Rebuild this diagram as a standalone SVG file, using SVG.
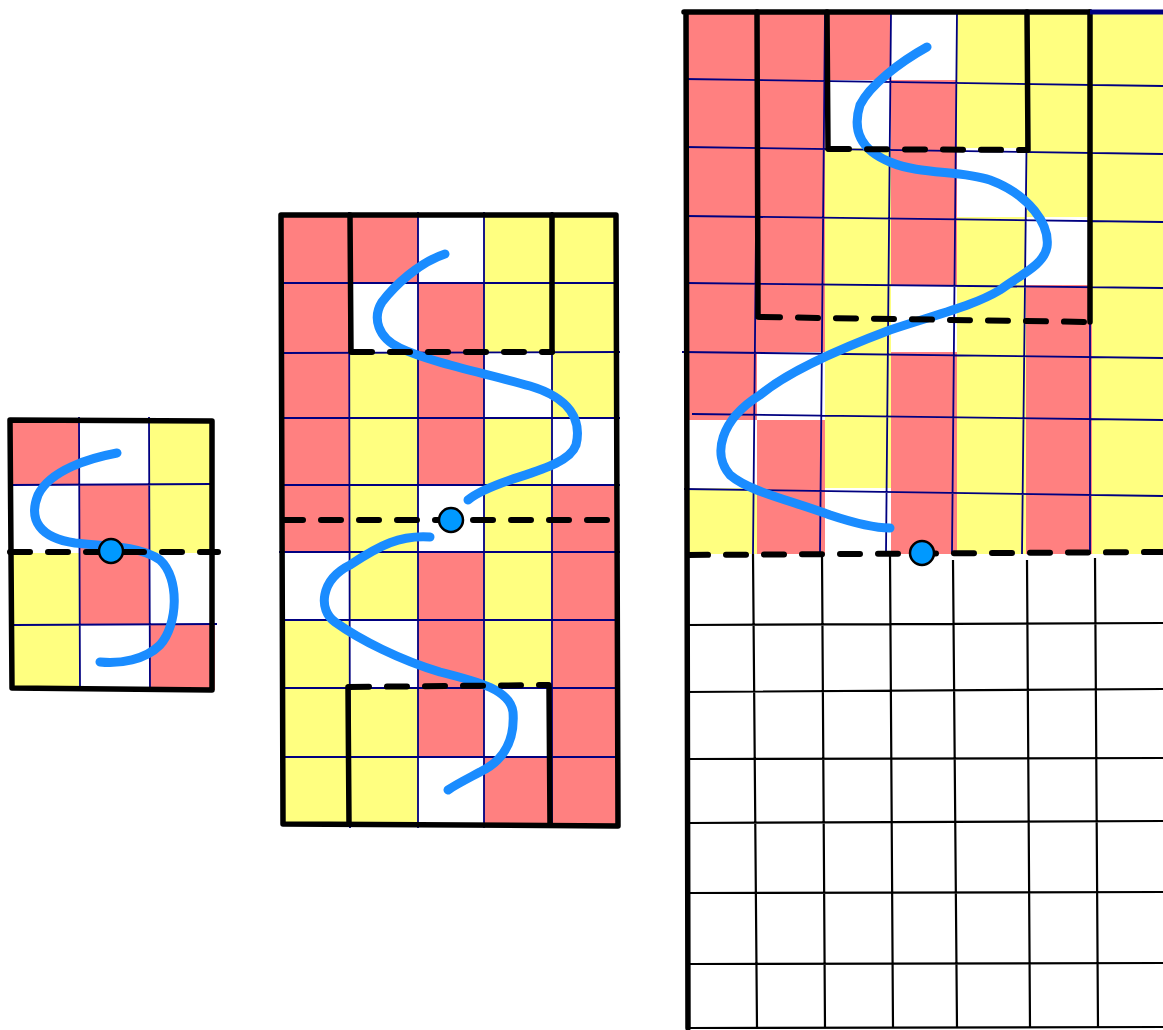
<svg xmlns="http://www.w3.org/2000/svg" width="1163" height="1030" viewBox="0 0 1163 1030">
<style>
.r{fill:#ff8080}
.y{fill:#ffff80}
.nv{stroke:#000080;stroke-width:1.8;fill:none}
.bk{stroke:#000;stroke-width:2.2;fill:none}
.thick{stroke:#000;stroke-width:5.5;fill:none;stroke-linecap:round;stroke-linejoin:round}
.dash{stroke:#000;stroke-width:6;fill:none;stroke-dasharray:20 18;stroke-linecap:round}
.curve{stroke:#1a8cff;stroke-width:9;fill:none;stroke-linecap:round;stroke-linejoin:round}
.dot{fill:#0099ff;stroke:#000;stroke-width:2.5}
</style>
<rect width="1163" height="1030" fill="#fff"/>

<g id="grid-small">
<rect class="r" x="10" y="420" width="69" height="65"/>
<rect class="y" x="149" y="420" width="63" height="65"/>
<rect class="r" x="79" y="485" width="70" height="68"/>
<rect class="y" x="149" y="485" width="63" height="68"/>
<rect class="y" x="10" y="553" width="69" height="72"/>
<rect class="r" x="79" y="553" width="70" height="72"/>
<rect class="y" x="10" y="625" width="69" height="65"/>
<rect class="r" x="149" y="625" width="66" height="65"/>
<path class="nv" d="M79,417 L80,690 M149,417 L150,690 M10,485 L212,484 M14,625 L217,624"/>
<path class="curve" d="M117,453 C90,458 50,470 38,495 C28,520 40,538 75,543 C100,546 140,545 160,560 C180,578 178,625 160,645 C145,660 120,664 100,662"/>
<path class="dash" d="M10,552 L218,552"/>
<path class="thick" d="M10,420 L212,421 L212,690 L12,688 Z"/>
<circle class="dot" cx="111" cy="551" r="12"/>
</g>

<g id="grid-medium">
<rect class="r" x="283" y="215" width="67" height="68"/>
<rect class="r" x="350" y="215" width="68" height="68"/>
<rect class="y" x="484" y="215" width="67" height="68"/>
<rect class="y" x="551" y="215" width="66" height="68"/>
<rect class="r" x="283" y="283" width="67" height="69"/>
<rect class="r" x="418" y="283" width="66" height="69"/>
<rect class="y" x="484" y="283" width="67" height="69"/>
<rect class="y" x="551" y="283" width="66" height="69"/>
<rect class="r" x="283" y="352" width="67" height="66"/>
<rect class="y" x="350" y="352" width="68" height="66"/>
<rect class="r" x="418" y="352" width="66" height="66"/>
<rect class="y" x="551" y="352" width="66" height="66"/>
<rect class="r" x="283" y="418" width="67" height="67"/>
<rect class="y" x="350" y="418" width="68" height="67"/>
<rect class="r" x="418" y="418" width="66" height="67"/>
<rect class="y" x="484" y="418" width="67" height="67"/>
<rect class="r" x="283" y="485" width="67" height="67"/>
<rect class="y" x="350" y="485" width="68" height="67"/>
<rect class="y" x="484" y="485" width="67" height="67"/>
<rect class="r" x="551" y="485" width="66" height="67"/>
<rect class="y" x="350" y="552" width="68" height="68"/>
<rect class="r" x="418" y="552" width="66" height="68"/>
<rect class="y" x="484" y="552" width="67" height="68"/>
<rect class="r" x="551" y="552" width="66" height="68"/>
<rect class="y" x="283" y="620" width="67" height="68"/>
<rect class="r" x="418" y="620" width="66" height="68"/>
<rect class="y" x="484" y="620" width="67" height="68"/>
<rect class="r" x="551" y="620" width="66" height="68"/>
<rect class="y" x="283" y="688" width="67" height="69"/>
<rect class="y" x="350" y="688" width="68" height="69"/>
<rect class="r" x="418" y="688" width="66" height="69"/>
<rect class="r" x="551" y="688" width="66" height="69"/>
<rect class="y" x="283" y="757" width="67" height="67"/>
<rect class="y" x="350" y="757" width="68" height="67"/>
<rect class="r" x="484" y="757" width="67" height="67"/>
<rect class="r" x="551" y="757" width="66" height="67"/>
<path class="nv" d="M349,212 L350,828 M418,212 L418,828 M484,212 L484,828 M552,212 L552,828 M281,283 L617,283 M281,353 L620,352 M281,418 L620,418 M283,485 L620,485 M279,552 L620,552 M283,620 L620,620 M283,688 L620,688 M281,757 L617,757"/>
<path class="curve" d="M445,254 C420,262 395,285 382,302 C372,318 378,338 400,348 C430,362 480,372 530,386 C570,398 582,420 576,445 C570,462 540,470 510,480 C490,487 475,494 468,500"/>
<path class="curve" d="M430,537 C400,535 380,545 350,565 C320,580 318,610 335,622 C360,640 400,660 440,672 C480,682 510,690 513,712 C515,740 505,760 480,772 C465,780 455,785 448,790"/>
<path class="dash" d="M283,520 L617,520"/>
<path class="dash" d="M352,352 L552,352"/>
<path class="dash" d="M349,687 L548,685"/>
<path class="thick" d="M350,215 L351,352 M552,215 L552,352 M348,687 L349,824 M549,685 L550,824"/>
<path class="thick" d="M281,215 L616,215 L618,826 L283,824 Z"/>
<circle class="dot" cx="451" cy="520" r="12"/>
</g>

<g id="grid-large">
<rect class="r" x="685" y="12" width="72" height="68"/>
<rect class="r" x="757" y="12" width="68" height="68"/>
<rect class="r" x="825" y="12" width="66" height="68"/>
<rect class="y" x="957" y="12" width="69" height="68"/>
<rect class="y" x="1026" y="12" width="66" height="68"/>
<rect class="y" x="1092" y="12" width="71" height="68"/>
<rect class="r" x="685" y="80" width="72" height="68"/>
<rect class="r" x="757" y="80" width="68" height="68"/>
<rect class="r" x="891" y="80" width="66" height="68"/>
<rect class="y" x="957" y="80" width="69" height="68"/>
<rect class="y" x="1026" y="80" width="66" height="68"/>
<rect class="y" x="1092" y="80" width="71" height="68"/>
<rect class="r" x="685" y="148" width="72" height="69"/>
<rect class="r" x="757" y="148" width="68" height="69"/>
<rect class="y" x="825" y="148" width="66" height="69"/>
<rect class="r" x="891" y="148" width="66" height="69"/>
<rect class="y" x="1026" y="148" width="66" height="69"/>
<rect class="y" x="1092" y="148" width="71" height="69"/>
<rect class="r" x="685" y="217" width="72" height="68"/>
<rect class="r" x="757" y="217" width="68" height="68"/>
<rect class="y" x="825" y="217" width="66" height="68"/>
<rect class="r" x="891" y="217" width="66" height="68"/>
<rect class="y" x="957" y="217" width="69" height="68"/>
<rect class="y" x="1092" y="217" width="71" height="68"/>
<rect class="r" x="685" y="285" width="72" height="67"/>
<rect class="r" x="757" y="285" width="68" height="67"/>
<rect class="y" x="825" y="285" width="66" height="67"/>
<rect class="y" x="957" y="285" width="69" height="67"/>
<rect class="r" x="1026" y="285" width="66" height="67"/>
<rect class="y" x="1092" y="285" width="71" height="67"/>
<rect class="r" x="685" y="352" width="72" height="68"/>
<rect class="y" x="825" y="352" width="66" height="68"/>
<rect class="r" x="891" y="352" width="66" height="68"/>
<rect class="y" x="957" y="352" width="69" height="68"/>
<rect class="r" x="1026" y="352" width="66" height="68"/>
<rect class="y" x="1092" y="352" width="71" height="68"/>
<rect class="r" x="757" y="420" width="68" height="68"/>
<rect class="y" x="825" y="420" width="66" height="68"/>
<rect class="r" x="891" y="420" width="66" height="68"/>
<rect class="y" x="957" y="420" width="69" height="68"/>
<rect class="r" x="1026" y="420" width="66" height="68"/>
<rect class="y" x="1092" y="420" width="71" height="68"/>
<rect class="y" x="685" y="488" width="72" height="66"/>
<rect class="r" x="757" y="488" width="68" height="66"/>
<rect class="r" x="891" y="488" width="66" height="66"/>
<rect class="y" x="957" y="488" width="69" height="66"/>
<rect class="r" x="1026" y="488" width="66" height="66"/>
<rect class="y" x="1092" y="488" width="71" height="66"/>
<path class="nv" d="M758,12 L753,554 M825,12 L820,554 M891,12 L886,554 M957,12 L952,554 M1028,12 L1022,554 M1090,12 L1090,554 M684,79 L1163,86 M684,147 L1163,154 M686,216 L1163,222 M686,283 L1163,288 M682,352 L1163,358 M692,414 L1163,420 M684,489 L1163,496"/>
<path class="bk" d="M753,554 L757,1028 M822,554 L825,1028 M890,554 L893,1028 M953,560 L957,1028 M1027,560 L1030,1028 M1095,558 L1098,1028 M686,625 L1163,623 M686,692 L1163,689 M688,759 L1163,758 M688,823 L1163,821 M688,893 L1163,892 M690,964 L1163,963 M688,1028 L1163,1027"/>
<path class="curve" d="M927,47 C900,62 870,85 860,105 C852,130 860,150 890,162 C920,175 960,170 990,180 C1030,195 1050,225 1047,247 C1044,265 1020,275 1000,290 C975,305 945,312 890,330 C850,345 790,370 760,395 C720,420 712,455 730,475 C750,492 790,500 830,515 C860,525 880,528 890,528"/>
<path class="dash" d="M829,149 L1027,150"/>
<path class="dash" d="M760,317 L1090,322"/>
<path class="dash" d="M688,555 L1163,552"/>
<path class="thick" d="M757,12 L758,317 M827,12 L828,149 M1027,12 L1028,150 M1090,12 L1090,322"/>
<path class="thick" d="M1090,12 L684,12 M686,12 L688,1028"/>
<path d="M1090,12 L1163,12" stroke="#000080" stroke-width="5" fill="none"/>
<circle class="dot" cx="922" cy="553" r="12"/>
</g>
</svg>
